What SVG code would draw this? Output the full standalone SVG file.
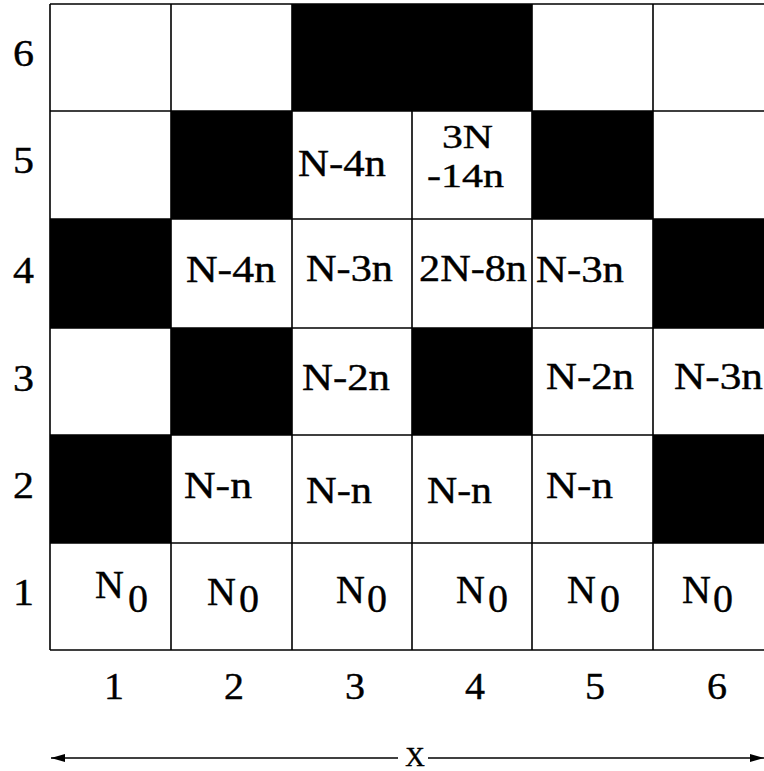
<svg xmlns="http://www.w3.org/2000/svg" width="764" height="771" viewBox="0 0 764 771">
<style>
.w{fill:#fff}
.b{fill:#000}
.g{stroke:#000;stroke-width:1.6;fill:none}
text{font-family:"Liberation Serif","DejaVu Serif","Times New Roman",serif;font-size:37px;fill:#000;stroke:#000;stroke-width:0.4}
.n0{font-size:40px}
.sm{font-size:34px}
.ax{stroke:#000;stroke-width:1.6;fill:none}
</style>
<defs>
<marker id="ah" viewBox="0 0 14 8" refX="14" refY="4" markerWidth="14" markerHeight="8" markerUnits="userSpaceOnUse" orient="auto-start-reverse">
<path d="M0,0 L14,4 L0,8 Z" fill="#000"/>
</marker>
</defs>
<rect width="764" height="771" fill="#fff"/>
<g id="cells">
<g id="r6">
<rect id="c6-1" class="w" x="50" y="4" width="121" height="107"/>
<rect id="c6-2" class="w" x="171" y="4" width="121" height="107"/>
<rect id="c6-3" class="b" x="292" y="4" width="120" height="107"/>
<rect id="c6-4" class="b" x="412" y="4" width="120" height="107"/>
<rect id="c6-5" class="w" x="532" y="4" width="121" height="107"/>
<rect id="c6-6" class="w" x="653" y="4" width="120" height="107"/>
</g>
<g id="r5">
<rect id="c5-1" class="w" x="50" y="111" width="121" height="108"/>
<rect id="c5-2" class="b" x="171" y="111" width="121" height="108"/>
<rect id="c5-3" class="w" x="292" y="111" width="120" height="108"/>
<rect id="c5-4" class="w" x="412" y="111" width="120" height="108"/>
<rect id="c5-5" class="b" x="532" y="111" width="121" height="108"/>
<rect id="c5-6" class="w" x="653" y="111" width="120" height="108"/>
</g>
<g id="r4">
<rect id="c4-1" class="b" x="50" y="219" width="121" height="109"/>
<rect id="c4-2" class="w" x="171" y="219" width="121" height="109"/>
<rect id="c4-3" class="w" x="292" y="219" width="120" height="109"/>
<rect id="c4-4" class="w" x="412" y="219" width="120" height="109"/>
<rect id="c4-5" class="w" x="532" y="219" width="121" height="109"/>
<rect id="c4-6" class="b" x="653" y="219" width="120" height="109"/>
</g>
<g id="r3">
<rect id="c3-1" class="w" x="50" y="328" width="121" height="107"/>
<rect id="c3-2" class="b" x="171" y="328" width="121" height="107"/>
<rect id="c3-3" class="w" x="292" y="328" width="120" height="107"/>
<rect id="c3-4" class="b" x="412" y="328" width="120" height="107"/>
<rect id="c3-5" class="w" x="532" y="328" width="121" height="107"/>
<rect id="c3-6" class="w" x="653" y="328" width="120" height="107"/>
</g>
<g id="r2">
<rect id="c2-1" class="b" x="50" y="435" width="121" height="108"/>
<rect id="c2-2" class="w" x="171" y="435" width="121" height="108"/>
<rect id="c2-3" class="w" x="292" y="435" width="120" height="108"/>
<rect id="c2-4" class="w" x="412" y="435" width="120" height="108"/>
<rect id="c2-5" class="w" x="532" y="435" width="121" height="108"/>
<rect id="c2-6" class="b" x="653" y="435" width="120" height="108"/>
</g>
<g id="r1">
<rect id="c1-1" class="w" x="50" y="543" width="121" height="107"/>
<rect id="c1-2" class="w" x="171" y="543" width="121" height="107"/>
<rect id="c1-3" class="w" x="292" y="543" width="120" height="107"/>
<rect id="c1-4" class="w" x="412" y="543" width="120" height="107"/>
<rect id="c1-5" class="w" x="532" y="543" width="121" height="107"/>
<rect id="c1-6" class="w" x="653" y="543" width="120" height="107"/>
</g>
</g>
<g id="gridlines" class="g">
<path d="M50,4 H773 M50,111 H773 M50,219 H773 M50,328 H773 M50,435 H773 M50,543 H773 M50,650 H773"/>
<path d="M50,4 V650 M171,4 V650 M292,4 V650 M412,4 V650 M532,4 V650 M653,4 V650"/>
</g>
<g id="cell-labels">
<text x="298" y="176" textLength="88" lengthAdjust="spacingAndGlyphs">N-4n</text>
<text class="sm" x="442" y="148" textLength="51" lengthAdjust="spacingAndGlyphs">3N</text>
<text class="sm" x="427" y="187" textLength="77" lengthAdjust="spacingAndGlyphs">-14n</text>
<text x="186" y="282" textLength="90" lengthAdjust="spacingAndGlyphs">N-4n</text>
<text x="306" y="281" textLength="87" lengthAdjust="spacingAndGlyphs">N-3n</text>
<text x="419" y="281" textLength="108" lengthAdjust="spacingAndGlyphs">2N-8n</text>
<text x="536" y="282" textLength="88" lengthAdjust="spacingAndGlyphs">N-3n</text>
<text x="302" y="390" textLength="88" lengthAdjust="spacingAndGlyphs">N-2n</text>
<text x="546" y="389" textLength="88" lengthAdjust="spacingAndGlyphs">N-2n</text>
<text x="674" y="389" textLength="89" lengthAdjust="spacingAndGlyphs">N-3n</text>
<text x="184" y="498" textLength="68" lengthAdjust="spacingAndGlyphs">N-n</text>
<text x="306" y="503" textLength="66" lengthAdjust="spacingAndGlyphs">N-n</text>
<text x="427" y="503" textLength="65" lengthAdjust="spacingAndGlyphs">N-n</text>
<text x="546" y="498" textLength="67" lengthAdjust="spacingAndGlyphs">N-n</text>
<text class="n0" x="95" y="598">N<tspan x="128" y="612">0</tspan></text>
<text class="n0" x="207" y="605">N<tspan x="239" y="612">0</tspan></text>
<text class="n0" x="336" y="603">N<tspan x="367" y="612">0</tspan></text>
<text class="n0" x="456" y="603">N<tspan x="488" y="612">0</tspan></text>
<text class="n0" x="567" y="603">N<tspan x="600" y="612">0</tspan></text>
<text class="n0" x="682" y="603">N<tspan x="713" y="612">0</tspan></text>
</g>
<g id="row-axis">
<text x="13" y="66" textLength="21" lengthAdjust="spacingAndGlyphs">6</text>
<text x="13" y="173" textLength="21" lengthAdjust="spacingAndGlyphs">5</text>
<text x="13" y="283" textLength="21" lengthAdjust="spacingAndGlyphs">4</text>
<text x="13" y="391" textLength="21" lengthAdjust="spacingAndGlyphs">3</text>
<text x="13" y="498" textLength="21" lengthAdjust="spacingAndGlyphs">2</text>
<text x="13" y="605" textLength="21" lengthAdjust="spacingAndGlyphs">1</text>
</g>
<g id="col-axis">
<text x="104" y="699" textLength="20" lengthAdjust="spacingAndGlyphs">1</text>
<text x="224" y="699" textLength="20" lengthAdjust="spacingAndGlyphs">2</text>
<text x="345" y="699" textLength="20" lengthAdjust="spacingAndGlyphs">3</text>
<text x="465" y="699" textLength="20" lengthAdjust="spacingAndGlyphs">4</text>
<text x="585" y="699" textLength="20" lengthAdjust="spacingAndGlyphs">5</text>
<text x="707" y="699" textLength="20" lengthAdjust="spacingAndGlyphs">6</text>
<text x="415" y="766" text-anchor="middle" style="font-size:27px">X</text>
</g>
<g id="connectors" class="ax">
<line x1="398" y1="758" x2="51" y2="758" marker-end="url(#ah)"/>
<line x1="428" y1="758" x2="764" y2="758" marker-end="url(#ah)"/>
</g>
</svg>
